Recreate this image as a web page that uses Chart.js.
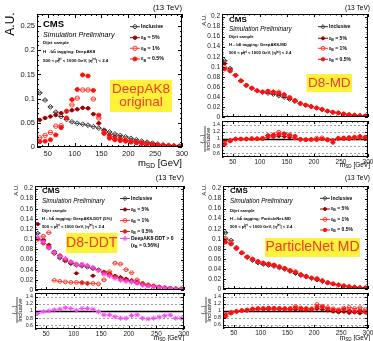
<!DOCTYPE html>
<html>
<head>
<meta charset="utf-8">
<script src="https://cdn.jsdelivr.net/npm/chart.js@4.4.0/dist/chart.umd.min.js"></script>
<style>
  html, body { margin: 0; padding: 0; background: #fff; }
  #wrap { position: relative; width: 373px; height: 341px; overflow: hidden; background: #fff; }
  #wrap canvas { position: absolute; left: 0; top: 0; }
</style>
</head>
<body>
<div id="wrap">
  <canvas id="c1" width="373" height="341"></canvas>
  <canvas id="c2" width="373" height="341"></canvas>
  <canvas id="c2r" width="373" height="341"></canvas>
  <canvas id="c3" width="373" height="341"></canvas>
  <canvas id="c3r" width="373" height="341"></canvas>
  <canvas id="c4" width="373" height="341"></canvas>
  <canvas id="c4r" width="373" height="341"></canvas>
</div>
<script>
const FONT = "'Liberation Sans', Arial, Helvetica, sans-serif";
const W = 373, H = 341;

// soft-drop mass bins, 10 GeV wide
const massBins = [35, 45, 55, 65, 75, 85, 95, 105, 115, 125, 135, 145, 155, 165, 175, 185, 195, 205, 215, 225, 235, 245, 255, 265, 275, 285, 295];
const massRange = [30, 300];
const massTicks = [50, 100, 150, 200, 250, 300];
const auTicksWide = [0, 0.05, 0.1, 0.15, 0.2, 0.25];
const auTicksNarrow = [0, 0.02, 0.04, 0.06, 0.08, 0.1, 0.12, 0.14, 0.16, 0.18, 0.2];
const ratioTicks = [0.6, 0.8, 1, 1.2, 1.4];
const effLabels = ['5%', '1%', '0.5%'];

// inclusive QCD jets (same sample in every panel)
const inclusive = [0.112, 0.097, 0.083, 0.072, 0.063, 0.057, 0.052, 0.049, 0.047, 0.045, 0.042, 0.039, 0.035, 0.031, 0.027, 0.024, 0.021, 0.018, 0.015, 0.012, 0.010, 0.008, 0.006, 0.0045, 0.0035, 0.0025, 0.002];

// DeepAK8 original
const ak8Eff5 = [0.056, 0.060, 0.063, 0.066, 0.070, 0.074, 0.076, 0.078, 0.081, 0.080, 0.068, 0.049, 0.034, 0.025, 0.021, 0.018, 0.015, 0.013, 0.011, 0.009, 0.007, 0.006, 0.004, 0.003, 0.002, 0.002, 0.001];
const ak8Eff1 = [0.019, 0.024, 0.030, 0.043, 0.044, 0.074, 0.087, 0.101, 0.118, 0.118, 0.099, 0.060, 0.030, 0.021, 0.017, 0.015, 0.013, 0.011, 0.009, 0.008, 0.006, 0.005, 0.004, 0.003, 0.002, 0.002, 0.001];
const ak8Eff05 = [0.011, 0.012, 0.015, 0.025, 0.040, 0.060, 0.098, 0.119, 0.149, 0.147, 0.117, 0.066, 0.028, 0.018, 0.015, 0.013, 0.012, 0.010, 0.009, 0.007, 0.006, 0.005, 0.004, 0.003, 0.002, 0.001, 0.001];

// DeepAK8-MD
const mdEff5 = [0.1064, 0.0941, 0.083, 0.072, 0.063, 0.057, 0.052, 0.049, 0.0494, 0.0477, 0.0454, 0.0417, 0.0368, 0.0316, 0.027, 0.0238, 0.0208, 0.018, 0.015, 0.0119, 0.0097, 0.008, 0.006, 0.0045, 0.0036, 0.0026, 0.002];
const mdEff1 = [0.0986, 0.0922, 0.083, 0.072, 0.063, 0.0576, 0.0525, 0.050, 0.0512, 0.0495, 0.050, 0.0441, 0.0392, 0.0319, 0.0267, 0.0235, 0.0206, 0.0184, 0.0155, 0.0118, 0.0095, 0.0081, 0.0061, 0.0046, 0.0036, 0.0026, 0.0021];
const mdEff05 = [0.0952, 0.0912, 0.083, 0.072, 0.063, 0.0576, 0.0525, 0.050, 0.0517, 0.0504, 0.0475, 0.0449, 0.0385, 0.0335, 0.0267, 0.0235, 0.0208, 0.0176, 0.015, 0.0116, 0.009, 0.0082, 0.0062, 0.0047, 0.0037, 0.0027, 0.0021];

// DeepAK8-DDT (5%)
const ddtEff5 = [0.130, 0.099, 0.089, 0.075, 0.066, 0.059, 0.053, 0.033, 0.015, 0.013, 0.028, 0.040, 0.036, 0.032, 0.028, 0.025, 0.022, 0.019, 0.016, 0.013, 0.010, 0.008, 0.006, 0.0045, 0.0035, 0.0025, 0.002];
const ddtEff1 = [0.100, 0.106, 0.113, 0.019, 0.017, 0.016, 0.015, 0.015, 0.014, 0.013, 0.013, 0.012, 0.020, 0.036, 0.053, 0.051, 0.040, 0.034, 0.020, 0.013, 0.010, 0.008, 0.006, 0.0045, 0.0035, 0.0025, 0.002];
const ddtEff05 = [0.101, 0.092, 0.086, 0.075, 0.068, 0.060, 0.055, 0.051, 0.050, 0.048, 0.044, 0.039, 0.034, 0.030, 0.026, 0.022, 0.019, 0.017, 0.014, 0.011, 0.009, 0.007, 0.005, 0.004, 0.003, 0.0025, 0.002];
const ddtPass = [0.1042, 0.0951, 0.083, 0.0742, 0.0662, 0.0621, 0.0556, 0.050, 0.0503, 0.0482, 0.0441, 0.0382, 0.0312, 0.0276, 0.0227, 0.0192, 0.0168, 0.0157, 0.0134, 0.0096, 0.0078, 0.0064, 0.005, 0.0039, 0.0031, 0.002, 0.0016];

// ParticleNet-MD
const pnEff5 = [0.0986, 0.0902, 0.0805, 0.0713, 0.063, 0.0581, 0.0536, 0.0505, 0.0484, 0.0464, 0.0433, 0.0398, 0.0357, 0.0319, 0.0275, 0.0242, 0.0214, 0.0189, 0.0155, 0.012, 0.0097, 0.0076, 0.0058, 0.0042, 0.0033, 0.0023, 0.0019];
const pnEff1 = [0.1008, 0.0922, 0.0813, 0.072, 0.0636, 0.0593, 0.0546, 0.0519, 0.0498, 0.0473, 0.0445, 0.041, 0.0371, 0.0347, 0.0289, 0.0254, 0.0221, 0.0211, 0.0168, 0.013, 0.0105, 0.0082, 0.0064, 0.0049, 0.0037, 0.0027, 0.00205];
const pnEff05 = [0.093, 0.0892, 0.0805, 0.072, 0.0643, 0.0599, 0.0551, 0.0519, 0.0503, 0.0482, 0.0445, 0.0413, 0.0368, 0.0335, 0.0286, 0.0252, 0.0218, 0.0198, 0.0165, 0.0126, 0.0102, 0.008, 0.0062, 0.0045, 0.0034, 0.0025, 0.0019];

// marker styles
const incStyle = { shape: 'rectRot', color: '#333333', fill: null, r: 2.1 };
const eff5Style = { shape: 'circle', color: '#9a0000', fill: '#9a0000', r: 1.5 };
const eff1Style = { shape: 'circle', color: '#ff3b30', fill: null, r: 1.9 };
const eff05Style = { shape: 'circle', color: '#ff1010', fill: '#ff1010', r: 1.7 };
const ddtStyle = { shape: 'star', color: '#f548f5', fill: null, r: 2.5 };

const binHalf = (massBins[1] - massBins[0]) / 2;
const specs = {};

function series(style, vals, order, k) {
    return {
        data: massBins.map((m, i) => ({ x: m, y: vals[i] })),
        pointStyle: style.shape,
        pointRadius: style.r * k,
        pointBorderColor: style.color,
        pointBackgroundColor: style.fill || 'rgba(0,0,0,0)',
        pointBorderWidth: 1,
        borderColor: style.color,
        halfBin: binHalf,
        order: order
    };
}

function ratioOf(vals) {
    return vals.map((v, i) => v / inclusive[i]);
}

// ---------- text helpers ----------
function txt(ctx, runs, x, y, size, o = {}) {
    const parts = runs.map(r => typeof r === 'string' ? { t: r } : Object.assign({}, r));
    const fontFor = (s) => `${o.style || 'normal'} ${o.weight || 'normal'} ${s}px ${FONT}`;
    let w = 0;
    parts.forEach(p => {
        const s = (p.sub || p.sup) ? size * 0.7 : size;
        ctx.font = fontFor(s);
        p.w = ctx.measureText(p.t).width;
        if (p.over) p.w = Math.max(p.w, ctx.measureText(p.over).width);
        w += p.w;
    });
    let cx = o.align === 'right' ? x - w : o.align === 'center' ? x - w / 2 : x;
    ctx.save();
    ctx.fillStyle = o.color || '#000';
    ctx.textAlign = 'left';
    ctx.textBaseline = 'middle';
    parts.forEach(p => {
        const s = (p.sub || p.sup) ? size * 0.7 : size;
        ctx.font = fontFor(s);
        const dy = p.sub ? size * 0.3 : p.sup ? -size * 0.38 : 0;
        ctx.fillText(p.t, cx, y + dy);
        if (p.over) ctx.fillText(p.over, cx, y - size * 0.38);
        cx += p.w;
    });
    ctx.restore();
}

function vtxt(ctx, runs, x, y, size, o = {}) {
    ctx.save();
    ctx.translate(x, y);
    ctx.rotate(-Math.PI / 2);
    txt(ctx, runs, 0, 0, size, Object.assign({ align: 'center' }, o));
    ctx.restore();
}

function mark(ctx, x, y, st, k) {
    const r = st.r * k;
    ctx.save();
    ctx.strokeStyle = st.color;
    ctx.lineWidth = 1;
    ctx.beginPath();
    ctx.moveTo(x - 5, y); ctx.lineTo(x + 5, y);
    ctx.stroke();
    ctx.beginPath();
    if (st.shape === 'rectRot') {
        ctx.moveTo(x, y - r); ctx.lineTo(x + r, y); ctx.lineTo(x, y + r); ctx.lineTo(x - r, y); ctx.closePath();
    } else if (st.shape === 'star') {
        for (let a = 0; a < 4; a++) {
            const ang = a * Math.PI / 4;
            ctx.moveTo(x - r * Math.cos(ang), y - r * Math.sin(ang));
            ctx.lineTo(x + r * Math.cos(ang), y + r * Math.sin(ang));
        }
    } else {
        ctx.arc(x, y, r, 0, Math.PI * 2);
    }
    if (st.fill) { ctx.fillStyle = st.fill; ctx.fill(); }
    ctx.stroke();
    ctx.restore();
}

function tag(ctx, x0, y0, x1, y1, lines, size) {
    ctx.save();
    ctx.fillStyle = '#fff23a';
    ctx.fillRect(x0, y0, x1 - x0, y1 - y0);
    ctx.restore();
    const cx = (x0 + x1) / 2, cy = (y0 + y1) / 2, n = lines.length;
    lines.forEach((l, i) => txt(ctx, [l], cx, cy + (i - (n - 1) / 2) * size, size, { align: 'center', color: '#f03a2a' }));
}

const ptRuns = ['500 < p', { t: 'T', sub: true, over: 'jet' }, ' < 1000 GeV, |\u03b7', { t: 'jet', sup: true }, '| < 2.4'];
const epsRuns = v => ['\u03b5', { t: 'B', sub: true }, ' = ' + v];
const msdRuns = ['m', { t: 'SD', sub: true }, ' [GeV]'];

function header(ctx, x, yCms, ySim, yDij, yTag, yPt, cmsSize, simSize, small, tagger) {
    txt(ctx, ['CMS'], x, yCms, cmsSize, { weight: 'bold' });
    txt(ctx, ['Simulation Preliminary'], x, ySim, simSize, { style: 'italic' });
    txt(ctx, ['Dijet sample'], x, yDij, small, { weight: 'bold' });
    txt(ctx, ['H\u2192bb\u0304 tagging: ' + tagger], x, yTag, small, { weight: 'bold' });
    txt(ctx, ptRuns, x, yPt, small, { weight: 'bold' });
}

function legend(ctx, x, ys, size, k, extra) {
    const entries = [
        [incStyle, ['Inclusive']],
        [eff5Style, epsRuns(effLabels[0])],
        [eff1Style, epsRuns(effLabels[1])],
        [eff05Style, epsRuns(effLabels[2])]
    ];
    if (extra) entries.push(extra);
    entries.forEach((e, i) => {
        mark(ctx, x, ys[i], e[0], k);
        txt(ctx, e[1], x + 6, ys[i], size, { weight: 'bold' });
    });
}

function ratioTitle(ctx, x, y, size) {
    vtxt(ctx, ['(...)'], x, y, size);
    ctx.save();
    ctx.strokeStyle = '#000';
    ctx.lineWidth = 0.7;
    ctx.beginPath();
    ctx.moveTo(x + 3, y - 13); ctx.lineTo(x + 3, y + 13);
    ctx.stroke();
    ctx.restore();
    vtxt(ctx, ['Inclusive'], x + 6.5, y, size);
}

// ---------- plugins ----------
const binBars = {
    id: 'binBars',
    beforeDatasetDraw(chart, args) {
        const ds = chart.data.datasets[args.index];
        if (!ds.halfBin) return;
        const { ctx, chartArea: ca, scales: { x, y } } = chart;
        ctx.save();
        ctx.beginPath();
        ctx.rect(ca.left, ca.top, ca.right - ca.left, ca.bottom - ca.top);
        ctx.clip();
        ctx.strokeStyle = ds.borderColor;
        ctx.lineWidth = 1;
        ctx.beginPath();
        ds.data.forEach(p => {
            const py = y.getPixelForValue(p.y);
            ctx.moveTo(x.getPixelForValue(p.x - ds.halfBin), py);
            ctx.lineTo(x.getPixelForValue(p.x + ds.halfBin), py);
        });
        ctx.stroke();
        ctx.restore();
    }
};

const frame = {
    id: 'frame',
    beforeDatasetsDraw(chart) {
        const sp = specs[chart.canvas.id];
        if (!sp.ratio) return;
        const { ctx, chartArea: ca, scales: { y } } = chart;
        ctx.save();
        sp.yTicks.forEach(v => {
            const py = Math.round(y.getPixelForValue(v)) + 0.5;
            ctx.beginPath();
            if (v === 1) { ctx.setLineDash([]); ctx.strokeStyle = '#000'; ctx.lineWidth = 1.3; }
            else { ctx.setLineDash([2, 2]); ctx.strokeStyle = '#8a8a8a'; ctx.lineWidth = 0.8; }
            ctx.moveTo(ca.left, py); ctx.lineTo(ca.right, py);
            ctx.stroke();
        });
        ctx.restore();
    },
    afterDraw(chart) {
        const sp = specs[chart.canvas.id];
        const { ctx, chartArea: ca, scales: { x, y } } = chart;
        ctx.save();
        ctx.strokeStyle = '#000';
        ctx.lineWidth = 1;
        ctx.strokeRect(Math.round(ca.left) + 0.5, Math.round(ca.top) + 0.5, Math.round(ca.right - ca.left) - 1, Math.round(ca.bottom - ca.top) - 1);
        ctx.beginPath();
        for (let v = massRange[0]; v <= massRange[1]; v += 10) {
            const px = Math.round(x.getPixelForValue(v)) + 0.5;
            const len = massTicks.includes(v) ? sp.major : sp.major / 2;
            ctx.moveTo(px, ca.bottom); ctx.lineTo(px, ca.bottom - len);
            ctx.moveTo(px, ca.top); ctx.lineTo(px, ca.top + len);
        }
        const st = sp.yMinor;
        for (let k = Math.ceil(sp.yMin / st - 1e-6); k * st <= sp.yMax + 1e-9; k++) {
            const v = k * st;
            const py = Math.round(y.getPixelForValue(v)) + 0.5;
            const major = sp.yTicks.some(t => Math.abs(t - v) < 1e-6);
            const len = major ? sp.major : sp.major / 2;
            ctx.moveTo(ca.left, py); ctx.lineTo(ca.left + len, py);
            ctx.moveTo(ca.right, py); ctx.lineTo(ca.right - len, py);
        }
        ctx.stroke();
        ctx.restore();
        if (sp.notes) sp.notes(ctx);
    }
};

function makeChart(id, sp) {
    specs[id] = sp;
    const a = sp.area, yw = 30, xh = sp.xLabels ? 12 : 0;
    return new Chart(document.getElementById(id), {
        type: 'scatter',
        data: { datasets: sp.datasets },
        options: {
            responsive: false,
            animation: false,
            devicePixelRatio: 1,
            layout: { padding: { left: a.l - yw, top: a.t, right: W - a.r, bottom: H - a.b - xh } },
            plugins: { legend: { display: false }, tooltip: { enabled: false } },
            scales: {
                x: {
                    type: 'linear', min: massRange[0], max: massRange[1],
                    grid: { display: false, drawTicks: false }, border: { display: false },
                    ticks: {
                        display: !!sp.xLabels, autoSkip: false, maxRotation: 0, padding: sp.xPad || 1,
                        color: '#222', font: { family: FONT, size: sp.tickSize },
                        callback: v => String(v)
                    },
                    afterBuildTicks: s => { s.ticks = massTicks.map(v => ({ value: v })); },
                    afterFit: s => { s.height = xh; s.paddingLeft = 0; s.paddingRight = 0; }
                },
                y: {
                    type: 'linear', min: sp.yMin, max: sp.yMax,
                    grid: { display: false, drawTicks: false }, border: { display: false },
                    ticks: {
                        autoSkip: false, padding: 2, color: '#222',
                        font: { family: FONT, size: sp.yTickSize || sp.tickSize },
                        callback: v => String(Math.round(v * 1000) / 1000)
                    },
                    afterBuildTicks: s => { s.ticks = sp.yTicks.map(v => ({ value: v })); },
                    afterFit: s => { s.width = yw; s.paddingTop = 0; s.paddingBottom = 0; }
                }
            }
        },
        plugins: [binBars, frame]
    });
}

// ---------- DeepAK8 original ----------
const k1 = 1.15;
makeChart('c1', {
    area: { l: 37, t: 14, r: 182, b: 147 },
    yMin: 0, yMax: 0.275, yTicks: auTicksWide, yMinor: 0.01, major: 4,
    xLabels: true, xPad: 2, tickSize: 7.5,
    datasets: [
        series(incStyle, inclusive, 4, k1),
        series(eff5Style, ak8Eff5, 3, k1),
        series(eff1Style, ak8Eff1, 2, k1),
        series(eff05Style, ak8Eff05, 1, k1)
    ],
    notes: ctx => {
        txt(ctx, ['(13 TeV)'], 182, 8, 7.7, { align: 'right' });
        vtxt(ctx, ['A.U.'], 11, 24, 12);
        txt(ctx, msdRuns, 182, 163, 9.5, { align: 'right' });
        header(ctx, 43, 24, 34.7, 43, 51.7, 60.5, 9.5, 7.2, 4.4, 'DeepAK8');
        legend(ctx, 135, [26.7, 37.7, 48.3, 59], 5.2, k1);
        tag(ctx, 110, 80, 172, 112, ['DeepAK8', 'original'], 13.5);
    }
});

// ---------- DeepAK8-MD ----------
const k2 = 1;
makeChart('c2', {
    area: { l: 222, t: 14, r: 370, b: 117 },
    yMin: 0, yMax: 0.205, yTicks: auTicksNarrow, yMinor: 0.005, major: 3,
    xLabels: false, tickSize: 6.5,
    datasets: [
        series(incStyle, inclusive, 4, k2),
        series(eff5Style, mdEff5, 3, k2),
        series(eff1Style, mdEff1, 2, k2),
        series(eff05Style, mdEff05, 1, k2)
    ],
    notes: ctx => {
        txt(ctx, ['(13 TeV)'], 370, 8, 6.6, { align: 'right' });
        vtxt(ctx, ['A.U.'], 204, 20, 6);
        header(ctx, 229, 20, 29.3, 37.3, 45, 53.3, 8, 6.3, 4.2, 'DeepAK8-MD');
        legend(ctx, 323, [26.7, 38.3, 48.3, 59.3], 5, k2);
        tag(ctx, 306.5, 74, 352, 92, ['D8-MD'], 13.5);
    }
});
makeChart('c2r', {
    area: { l: 222, t: 121, r: 370, b: 157 }, ratio: true,
    yMin: 0.5, yMax: 1.5, yTicks: ratioTicks, yMinor: 0.1, major: 3,
    xLabels: true, xPad: 0, tickSize: 6.5, yTickSize: 5.3,
    datasets: [
        series(eff5Style, ratioOf(mdEff5), 3, k2),
        series(eff1Style, ratioOf(mdEff1), 2, k2),
        series(eff05Style, ratioOf(mdEff05), 1, k2)
    ],
    notes: ctx => {
        ratioTitle(ctx, 202, 139, 6);
        txt(ctx, msdRuns, 370, 165, 6.5, { align: 'right' });
    }
});

// ---------- DeepAK8-DDT ----------
makeChart('c3', {
    area: { l: 35, t: 186, r: 184, b: 290 },
    yMin: 0, yMax: 0.205, yTicks: auTicksNarrow, yMinor: 0.005, major: 3,
    xLabels: false, tickSize: 6.5,
    datasets: [
        series(incStyle, inclusive, 5, k2),
        series(eff5Style, ddtEff5, 4, k2),
        series(eff1Style, ddtEff1, 3, k2),
        series(eff05Style, ddtEff05, 2, k2),
        series(ddtStyle, ddtPass, 1, k2)
    ],
    notes: ctx => {
        txt(ctx, ['(13 TeV)'], 184, 178, 7.5, { align: 'right' });
        vtxt(ctx, ['A.U.'], 16, 190, 6);
        header(ctx, 42, 191, 201.7, 210.5, 218.5, 227, 8, 6.3, 4.2, 'DeepAK8-DDT (5%)');
        legend(ctx, 125, [198.5, 209.5, 220.5, 231.5, 238.5], 5, k2,
            [ddtStyle, ['DeepAK8-DDT > 0']]);
        txt(ctx, ['(', '\u03b5', { t: 'B', sub: true }, ' = 0.56%)'], 131, 245.5, 5, { weight: 'bold' });
        tag(ctx, 66, 233, 117.5, 253, ['D8-DDT'], 14);
    }
});
makeChart('c3r', {
    area: { l: 35, t: 293, r: 184, b: 329 }, ratio: true,
    yMin: 0.5, yMax: 1.5, yTicks: ratioTicks, yMinor: 0.1, major: 3,
    xLabels: true, xPad: 0, tickSize: 6.5, yTickSize: 5.3,
    datasets: [
        series(ddtStyle, ratioOf(ddtPass), 1, k2)
    ],
    notes: ctx => {
        ratioTitle(ctx, 14, 310, 6);
        txt(ctx, msdRuns, 184, 338, 6.5, { align: 'right' });
    }
});

// ---------- ParticleNet-MD ----------
makeChart('c4', {
    area: { l: 223, t: 186, r: 370, b: 289 },
    yMin: 0, yMax: 0.205, yTicks: auTicksNarrow, yMinor: 0.005, major: 3,
    xLabels: false, tickSize: 6.5,
    datasets: [
        series(incStyle, inclusive, 4, k2),
        series(eff5Style, pnEff5, 3, k2),
        series(eff1Style, pnEff1, 2, k2),
        series(eff05Style, pnEff05, 1, k2)
    ],
    notes: ctx => {
        txt(ctx, ['(13 TeV)'], 370, 178, 6.6, { align: 'right' });
        vtxt(ctx, ['A.U.'], 204, 190, 6);
        header(ctx, 230, 191, 201.7, 210.5, 218.5, 227, 8, 6.3, 4.2, 'ParticleNet-MD');
        legend(ctx, 325, [198.3, 209, 219.5, 230], 5, k2);
        tag(ctx, 265, 238, 360, 257, ['ParticleNet MD'], 14);
    }
});
makeChart('c4r', {
    area: { l: 223, t: 293, r: 370, b: 328 }, ratio: true,
    yMin: 0.5, yMax: 1.5, yTicks: ratioTicks, yMinor: 0.1, major: 3,
    xLabels: true, xPad: 0, tickSize: 6.5, yTickSize: 5.3,
    datasets: [
        series(eff5Style, ratioOf(pnEff5), 3, k2),
        series(eff1Style, ratioOf(pnEff1), 2, k2),
        series(eff05Style, ratioOf(pnEff05), 1, k2)
    ],
    notes: ctx => {
        ratioTitle(ctx, 203, 310, 6);
        txt(ctx, msdRuns, 370, 338, 6.5, { align: 'right' });
    }
});
</script>
</body>
</html>
